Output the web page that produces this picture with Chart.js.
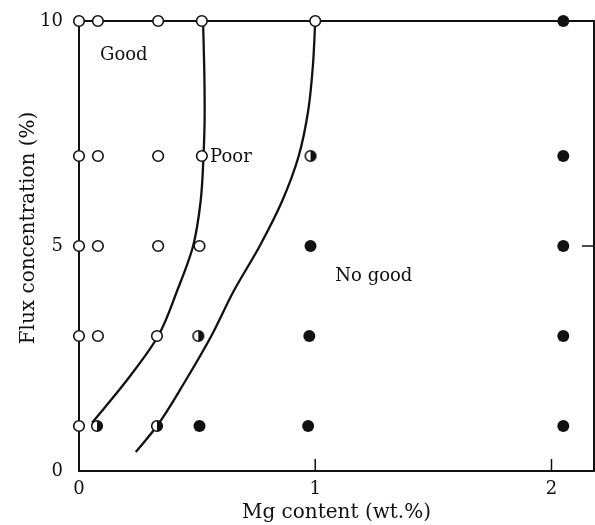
<!DOCTYPE html>
<html>
<head>
<meta charset="utf-8">
<script src="https://cdn.jsdelivr.net/npm/chart.js@4"></script>
<style>
  body { margin: 0; background: #fff; }
  #wrap { width: 595px; height: 525px; }
</style>
</head>
<body>
<div id="wrap"><canvas id="chart" width="595" height="525"></canvas></div>
<script>
// axis ticks
const xTicks = [0, 1, 2];
const yTicks = [0, 5, 10];

// open circles = Good
const openX = [0, 0.08, 0.335, 0.52, 1.0, 0, 0.08, 0.335, 0.52, 0, 0.08, 0.335, 0.51, 0, 0.08, 0.33, 0];
const openY = [10, 10, 10, 10, 10, 7, 7, 7, 7, 5, 5, 5, 5, 3, 3, 3, 1];
// half filled = Poor
const halfX = [0.98, 0.505, 0.076, 0.33];
const halfY = [7, 3, 1, 1];
// filled = No good
const fullX = [2.05, 2.05, 0.98, 2.05, 0.975, 2.05, 0.51, 0.97, 2.05];
const fullY = [10, 7, 5, 5, 3, 3, 1, 1, 1];

// boundary curves
const goodPoorX = [0.055, 0.2, 0.335, 0.415, 0.483, 0.515, 0.527, 0.532, 0.53, 0.525];
const goodPoorY = [1.07, 2, 3, 4, 5, 6, 7, 8, 9, 10];
const poorNoX = [0.24, 0.33, 0.45, 0.56, 0.655, 0.765, 0.86, 0.93, 0.97, 0.99, 1.0];
const poorNoY = [0.42, 1, 2, 3, 4, 5, 6, 7, 8, 9, 10];

// region labels
const regionText = ["Good", "Poor", "No good"];
const regionX = [0.089, 0.555, 1.085];
const regionY = [9.24, 6.98, 4.33];

const FONT = "'DejaVu Serif', serif";

function pts(xs, ys) {
  return xs.map((x, i) => ({ x: x, y: ys[i] }));
}

// marker with right half filled
const halfMark = document.createElement("canvas");
halfMark.width = 14;
halfMark.height = 14;
(function () {
  const c = halfMark.getContext("2d");
  c.beginPath();
  c.arc(7, 7, 5.3, 0, Math.PI * 2);
  c.fillStyle = "#fff";
  c.fill();
  c.beginPath();
  c.arc(7, 7, 5.3, -Math.PI / 2, Math.PI / 2);
  c.closePath();
  c.fillStyle = "#111";
  c.fill();
  c.beginPath();
  c.arc(7, 7, 5.3, 0, Math.PI * 2);
  c.lineWidth = 1.6;
  c.strokeStyle = "#111";
  c.stroke();
})();

const decor = {
  id: "decor",
  beforeDatasetsDraw(chart) {
    const ctx = chart.ctx;
    const a = chart.chartArea;
    const sx = chart.scales.x, sy = chart.scales.y;
    ctx.save();
    ctx.strokeStyle = "#111";
    ctx.lineWidth = 2;
    ctx.strokeRect(a.left, a.top, a.right - a.left, a.bottom - a.top);
    // inward ticks
    ctx.beginPath();
    xTicks.slice(1).forEach(v => {
      const px = sx.getPixelForValue(v);
      ctx.moveTo(px, a.bottom);
      ctx.lineTo(px, a.bottom - 12);
    });
    const py = sy.getPixelForValue(5);
    ctx.moveTo(a.right, py);
    ctx.lineTo(a.right - 12, py);
    ctx.lineWidth = 1.5;
    ctx.stroke();
    // region labels
    ctx.fillStyle = "#111";
    ctx.font = "18px " + FONT;
    ctx.textBaseline = "middle";
    ctx.textAlign = "left";
    regionText.forEach((t, i) => {
      ctx.fillText(t, sx.getPixelForValue(regionX[i]), sy.getPixelForValue(regionY[i]));
    });
    // y title
    ctx.translate(29, 228);
    ctx.rotate(-Math.PI / 2);
    ctx.textAlign = "center";
    ctx.font = "20px " + FONT;
    ctx.fillText("Flux concentration (%)", 0, 0);
    ctx.restore();
  }
};

const lineDs = (xs, ys) => ({
  type: "line",
  data: pts(xs, ys),
  indexAxis: "y",
  borderColor: "#111",
  borderWidth: 2.3,
  pointRadius: 0,
  cubicInterpolationMode: "monotone",
  fill: false,
  order: 5,
  clip: false
});

new Chart(document.getElementById("chart"), {
  type: "scatter",
  data: {
    datasets: [
      lineDs(goodPoorX, goodPoorY),
      lineDs(poorNoX, poorNoY),
      {
        data: pts(openX, openY),
        pointRadius: 5.3,
        pointBackgroundColor: "#fff",
        pointBorderColor: "#111",
        pointBorderWidth: 1.6,
        clip: false,
        order: 1
      },
      {
        data: pts(halfX, halfY),
        pointStyle: halfMark,
        clip: false,
        order: 1
      },
      {
        data: pts(fullX, fullY),
        pointRadius: 6,
        pointBackgroundColor: "#111",
        pointBorderColor: "#111",
        pointBorderWidth: 0,
        clip: false,
        order: 1
      }
    ]
  },
  options: {
    responsive: false,
    animation: false,
    devicePixelRatio: 1,
    layout: { autoPadding: false, padding: { left: 0, right: 1, top: 21, bottom: 0 } },
    plugins: { legend: { display: false }, tooltip: { enabled: false } },
    scales: {
      x: {
        type: "linear",
        min: 0,
        max: 2.18,
        afterBuildTicks: s => { s.ticks = xTicks.map(v => ({ value: v })); },
        afterFit: s => { s.height = 54; s.paddingLeft = 0; s.paddingRight = 0; },
        grid: { display: false },
        border: { display: false },
        ticks: { color: "#111", font: { family: FONT, size: 18 }, padding: 0, maxRotation: 0 },
        title: {
          display: true,
          text: "Mg content (wt.%)",
          color: "#111",
          font: { family: FONT, size: 20 },
          padding: { top: 0, bottom: 0 }
        }
      },
      y: {
        type: "linear",
        min: 0,
        max: 10,
        afterBuildTicks: s => { s.ticks = yTicks.map(v => ({ value: v })); },
        afterFit: s => { s.width = 79; s.paddingTop = 0; s.paddingBottom = 0; },
        grid: { display: false },
        border: { display: false },
        ticks: { color: "#111", font: { family: FONT, size: 18 }, padding: 8 }
      }
    }
  },
  plugins: [decor]
});
</script>
</body>
</html>
